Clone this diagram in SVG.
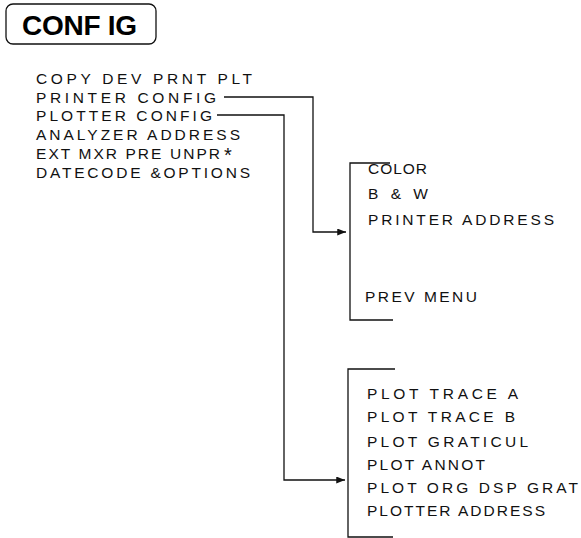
<svg xmlns="http://www.w3.org/2000/svg" width="581" height="538" viewBox="0 0 581 538">
<defs>
<marker id="arr" viewBox="0 0 10 8" refX="10" refY="4" markerWidth="10" markerHeight="7" markerUnits="userSpaceOnUse" orient="auto">
<path d="M0,0 L10,4 L0,8 z" fill="#111"/>
</marker>
</defs>
<style>
.t{font-family:"Liberation Sans",Arial,sans-serif;font-size:15.5px;fill:#111}
.ln{fill:none;stroke:#111;stroke-width:1.3}
.title{font-family:"Liberation Sans",Arial,sans-serif;font-size:28px;font-weight:bold;fill:#000}
</style>
<rect width="581" height="538" fill="#fff"/>
<g id="title">
<rect x="6" y="4" width="150" height="40" rx="7" class="ln" stroke-width="1.6"/>
<text class="title" x="22" y="35" textLength="115" lengthAdjust="spacing">CONF IG</text>
</g>
<g id="main-menu">
<text class="t" x="36" y="84" textLength="216" lengthAdjust="spacing">COPY DEV PRNT PLT</text>
<text class="t" x="36" y="103" textLength="180" lengthAdjust="spacing">PRINTER CONFIG</text>
<text class="t" x="36" y="121" textLength="176" lengthAdjust="spacing">PLOTTER CONFIG</text>
<text class="t" x="36" y="140" textLength="204" lengthAdjust="spacing">ANALYZER ADDRESS</text>
<text class="t" x="36" y="159"><tspan textLength="184" lengthAdjust="spacing">EXT MXR PRE UNPR</tspan><tspan x="224" y="162" font-size="20">*</tspan></text>
<text class="t" x="36" y="178" textLength="214" lengthAdjust="spacing">DATECODE &amp;OPTIONS</text>
</g>
<g id="printer-menu">
<path class="ln" d="M390,163 H350 V320 H393"/>
<text class="t" x="368" y="174" textLength="59" lengthAdjust="spacing">COLOR</text>
<text class="t" x="368" y="199" textLength="60" lengthAdjust="spacing">B &amp; W</text>
<text class="t" x="368" y="225" textLength="186" lengthAdjust="spacing">PRINTER ADDRESS</text>
<text class="t" x="365" y="302" textLength="112" lengthAdjust="spacing">PREV MENU</text>
</g>
<g id="plotter-menu">
<path class="ln" d="M395,369 H348 V537 H393"/>
<text class="t" x="367" y="399" textLength="151" lengthAdjust="spacing">PLOT TRACE A</text>
<text class="t" x="367" y="422" textLength="148" lengthAdjust="spacing">PLOT TRACE B</text>
<text class="t" x="367" y="447" textLength="161" lengthAdjust="spacing">PLOT GRATICUL</text>
<text class="t" x="367" y="470" textLength="118" lengthAdjust="spacing">PLOT ANNOT</text>
<text class="t" x="367" y="493" textLength="211" lengthAdjust="spacing">PLOT ORG DSP GRAT</text>
<text class="t" x="367" y="516" textLength="178" lengthAdjust="spacing">PLOTTER ADDRESS</text>
</g>
<g id="connectors">
<path class="ln" d="M224,97 H313 V232 H346" marker-end="url(#arr)"/>
<path class="ln" d="M217,115 H284 V480 H345" marker-end="url(#arr)"/>
</g>
</svg>
